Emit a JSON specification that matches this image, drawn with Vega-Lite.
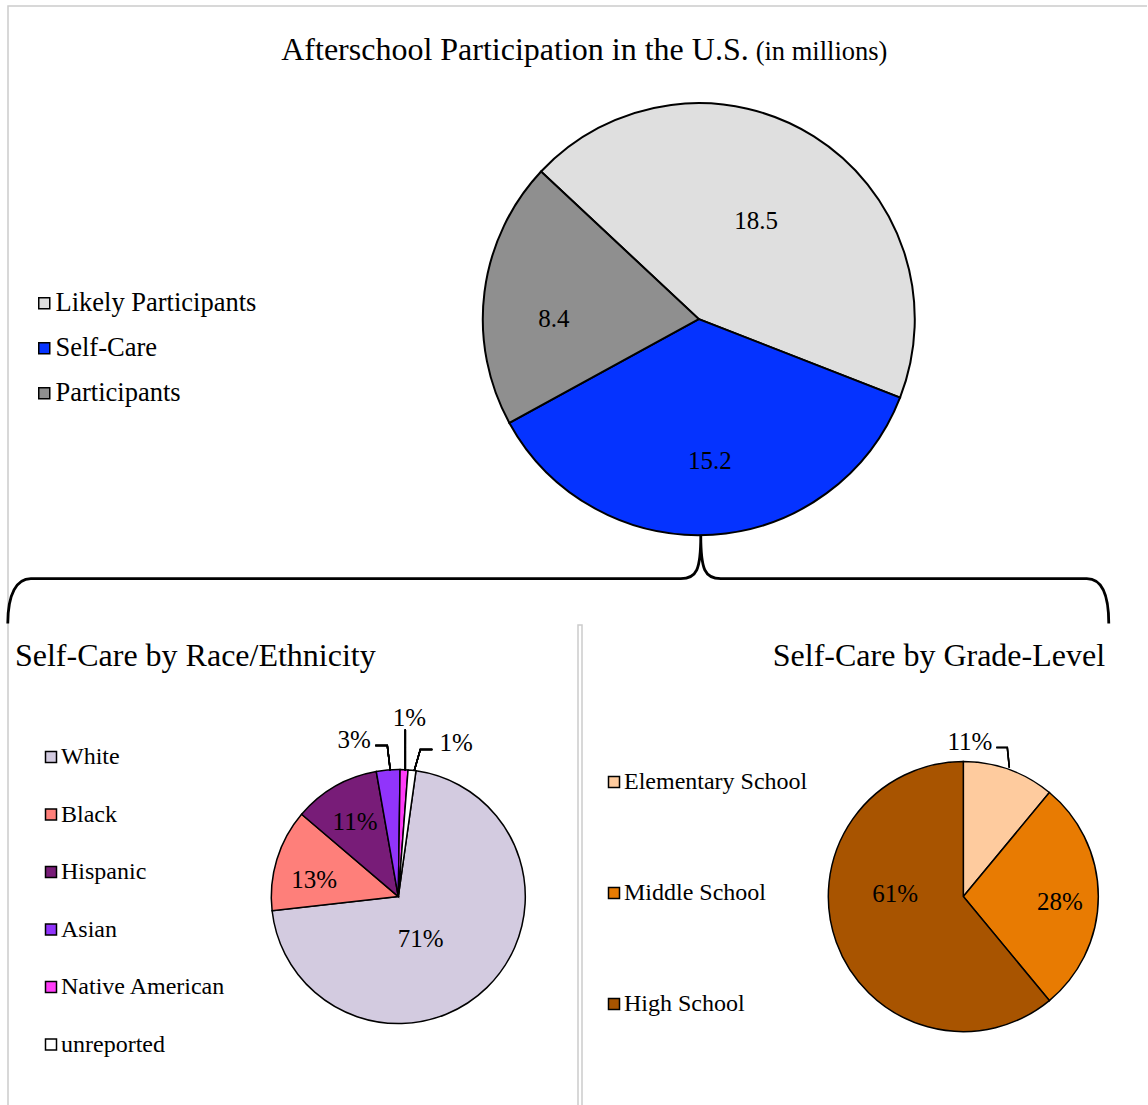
{
  "$schema": "https://vega.github.io/schema/vega-lite/v6.json",
  "width": 1148,
  "height": 1105,
  "autosize": {"type": "fit", "contains": "padding"},
  "padding": 0,
  "background": "white",
  "config": {
    "view": {"stroke": null},
    "font": "Liberation Serif",
    "text": {"font": "Liberation Serif", "color": "black"},
    "legend": {
      "orient": "none",
      "title": null,
      "symbolType": "square",
      "symbolSize": 121,
      "symbolStrokeColor": "black",
      "symbolStrokeWidth": 1.5,
      "symbolOpacity": 1,
      "labelFont": "Liberation Serif",
      "labelColor": "black",
      "labelLimit": 0,
      "labelOffset": -2,
      "padding": 0
    }
  },
  "resolve": {"scale": {"theta": "independent", "color": "independent"}},
  "layer": [
    {
      "description": "light grey panel frames",
      "data": {"values": [{}]},
      "mark": {"type": "point", "shape": "M 8 1105 L 8 6 L 1147 6 M 578 1105 L 578 625 L 582 625 L 582 1105", "size": 4, "filled": false, "stroke": "#cccccc", "strokeWidth": 1.5, "opacity": 1},
      "encoding": {
        "x": {"datum": 0, "scale": {"domain": [0, 1148], "nice": false}, "axis": null},
        "y": {"datum": 0, "scale": {"domain": [0, 1105], "nice": false, "reverse": true}, "axis": null}
      }
    },
    {
      "description": "brace linking the Self-Care slice to the two breakdown panels",
      "data": {"values": [{}]},
      "mark": {"type": "point", "shape": "M -693 88 C -693 58 -684 43 -670 43 L -20 43 C -4 43 0 34 0 0 C 0 34 4 43 20 43 L 386 43 C 400 43 408 58 408 88", "size": 4, "filled": false, "stroke": "black", "strokeWidth": 2.8, "opacity": 1},
      "encoding": {
        "x": {"datum": 702, "scale": {"domain": [0, 1148], "nice": false}, "axis": null},
        "y": {"datum": 537, "scale": {"domain": [0, 1105], "nice": false, "reverse": true}, "axis": null}
      }
    },
    {
      "data": {"values": [{}]},
      "mark": {"type": "text", "text": "Afterschool Participation in the U.S.", "align": "right", "baseline": "alphabetic", "fontSize": 32},
      "encoding": {
        "x": {"datum": 750, "scale": {"domain": [0, 1148], "nice": false}, "axis": null},
        "y": {"datum": 60, "scale": {"domain": [0, 1105], "nice": false, "reverse": true}, "axis": null}
      }
    },
    {
      "data": {"values": [{}]},
      "mark": {"type": "text", "text": "(in millions)", "align": "left", "baseline": "alphabetic", "fontSize": 26.5},
      "encoding": {
        "x": {"datum": 757, "scale": {"domain": [0, 1148], "nice": false}, "axis": null},
        "y": {"datum": 60, "scale": {"domain": [0, 1105], "nice": false, "reverse": true}, "axis": null}
      }
    },
    {
      "data": {"values": [{}]},
      "mark": {"type": "text", "text": "Self-Care by Race/Ethnicity", "align": "left", "baseline": "alphabetic", "fontSize": 32},
      "encoding": {
        "x": {"datum": 15, "scale": {"domain": [0, 1148], "nice": false}, "axis": null},
        "y": {"datum": 668, "scale": {"domain": [0, 1105], "nice": false, "reverse": true}, "axis": null}
      }
    },
    {
      "data": {"values": [{}]},
      "mark": {"type": "text", "text": "Self-Care by Grade-Level", "align": "right", "baseline": "alphabetic", "fontSize": 32},
      "encoding": {
        "x": {"datum": 1107, "scale": {"domain": [0, 1148], "nice": false}, "axis": null},
        "y": {"datum": 668, "scale": {"domain": [0, 1105], "nice": false, "reverse": true}, "axis": null}
      }
    },
    {
      "description": "overall participation, millions of children",
      "data": {"values": [
        {"cat": "Likely Participants", "val": 18.5, "seq": 1},
        {"cat": "Self-Care", "val": 15.2, "seq": 2},
        {"cat": "Participants", "val": 8.4, "seq": 3}
      ]},
      "encoding": {
        "x": {"datum": 700, "scale": {"domain": [0, 1148], "nice": false}, "axis": null},
        "y": {"datum": 320, "scale": {"domain": [0, 1105], "nice": false, "reverse": true}, "axis": null},
        "theta": {"field": "val", "type": "quantitative", "stack": true, "scale": {"range": [-0.8186, 5.4646]}},
        "order": {"field": "seq", "type": "quantitative"}
      },
      "layer": [
        {
          "mark": {"type": "arc", "outerRadius": 216, "stroke": "black", "strokeWidth": 2},
          "encoding": {
            "color": {
              "field": "cat", "type": "nominal",
              "scale": {"domain": ["Likely Participants", "Self-Care", "Participants"], "range": ["#dfdfdf", "#0533ff", "#8f8f8f"]},
              "legend": {"legendX": 31, "legendY": 290, "labelFontSize": 26.5, "rowPadding": 18}
            }
          }
        },
        {
          "mark": {
            "type": "text", "fontSize": 25, "align": "center", "baseline": "middle",
            "radius": {"expr": "datum.cat === 'Likely Participants' ? 115 : datum.cat === 'Self-Care' ? 141 : 147"},
            "dx": {"expr": "datum.cat === 'Likely Participants' ? -4 : datum.cat === 'Self-Care' ? 2 : 1"},
            "dy": {"expr": "datum.cat === 'Likely Participants' ? -1 : datum.cat === 'Participants' ? 18 : 1"}
          },
          "encoding": {
            "detail": {"field": "cat", "type": "nominal"},
            "text": {"field": "val", "type": "quantitative", "format": ".1f"}
          }
        }
      ]
    },
    {
      "description": "self-care by race/ethnicity, share",
      "data": {"values": [
        {"cat": "White", "val": 0.71, "seq": 1},
        {"cat": "Black", "val": 0.13, "seq": 2},
        {"cat": "Hispanic", "val": 0.11, "seq": 3},
        {"cat": "Asian", "val": 0.03, "seq": 4},
        {"cat": "Native American", "val": 0.01, "seq": 5},
        {"cat": "unreported", "val": 0.01, "seq": 6}
      ]},
      "encoding": {
        "x": {"datum": 399, "scale": {"domain": [0, 1148], "nice": false}, "axis": null},
        "y": {"datum": 899, "scale": {"domain": [0, 1105], "nice": false, "reverse": true}, "axis": null},
        "theta": {"field": "val", "type": "quantitative", "stack": true, "scale": {"range": [0.1396, 6.4228]}},
        "order": {"field": "seq", "type": "quantitative"}
      },
      "layer": [
        {
          "mark": {"type": "arc", "outerRadius": 127, "stroke": "black", "strokeWidth": 1.5},
          "encoding": {
            "color": {
              "field": "cat", "type": "nominal",
              "scale": {"domain": ["White", "Black", "Hispanic", "Asian", "Native American", "unreported"], "range": ["#d3cbe0", "#fe7f7a", "#781c78", "#9134fb", "#ff3cf8", "#ffffff"]},
              "legend": {"legendX": 39, "legendY": 745, "labelFontSize": 24, "rowPadding": 33.5}
            }
          }
        },
        {
          "mark": {
            "type": "text", "fontSize": 25, "align": "center", "baseline": "middle",
            "radius": {"expr": "datum.cat === 'White' ? 45 : datum.cat === 'Black' ? 89 : datum.cat === 'Hispanic' ? 89 : datum.cat === 'Native American' ? 181 : 165"},
            "dx": {"expr": "datum.cat === 'White' ? -9 : datum.cat === 'Asian' ? -31 : datum.cat === 'Native American' ? 3 : datum.cat === 'unreported' ? 40 : 1"},
            "dy": {"expr": "datum.cat === 'White' ? 10 : datum.cat === 'Black' ? 9.5 : datum.cat === 'Asian' ? 8 : datum.cat === 'unreported' ? 10 : 2.5"}
          },
          "encoding": {
            "detail": {"field": "cat", "type": "nominal"},
            "text": {"field": "val", "type": "quantitative", "format": ".0%"}
          }
        },
        {
          "description": "leader lines for the three thin slices",
          "mark": {"type": "point", "shape": "M -23 -151 L -11 -151 L -8 -126 M 7 -167 L 7 -126 M 34 -147 L 22 -147 L 16 -126", "size": 4, "filled": false, "stroke": "black", "strokeWidth": 1.5, "opacity": 1}
        }
      ]
    },
    {
      "description": "self-care by grade level, share",
      "data": {"values": [
        {"cat": "Elementary School", "val": 0.11, "seq": 1},
        {"cat": "Middle School", "val": 0.28, "seq": 2},
        {"cat": "High School", "val": 0.61, "seq": 3}
      ]},
      "encoding": {
        "x": {"datum": 965, "scale": {"domain": [0, 1148], "nice": false}, "axis": null},
        "y": {"datum": 899, "scale": {"domain": [0, 1105], "nice": false, "reverse": true}, "axis": null},
        "theta": {"field": "val", "type": "quantitative", "stack": true},
        "order": {"field": "seq", "type": "quantitative"}
      },
      "layer": [
        {
          "mark": {"type": "arc", "outerRadius": 135, "stroke": "black", "strokeWidth": 1.5},
          "encoding": {
            "color": {
              "field": "cat", "type": "nominal",
              "scale": {"domain": ["Elementary School", "Middle School", "High School"], "range": ["#fecb9e", "#e87b02", "#a85400"]},
              "legend": {"legendX": 602, "legendY": 770, "labelFontSize": 24, "rowPadding": 87}
            }
          }
        },
        {
          "mark": {
            "type": "text", "fontSize": 25, "align": "center", "baseline": "middle",
            "radius": {"expr": "datum.cat === 'Elementary School' ? 157 : datum.cat === 'Middle School' ? 95 : 74"},
            "dx": {"expr": "datum.cat === 'Elementary School' ? -46.5 : 1.5"},
            "dy": {"expr": "datum.cat === 'Elementary School' ? -6.5 : datum.cat === 'Middle School' ? 5 : -27.5"}
          },
          "encoding": {
            "detail": {"field": "cat", "type": "nominal"},
            "text": {"field": "val", "type": "quantitative", "format": ".0%"}
          }
        },
        {
          "description": "leader line for the elementary slice",
          "mark": {"type": "point", "shape": "M 33 -149 L 44 -149 L 46 -129", "size": 4, "filled": false, "stroke": "black", "strokeWidth": 1.5, "opacity": 1}
        }
      ]
    }
  ]
}
